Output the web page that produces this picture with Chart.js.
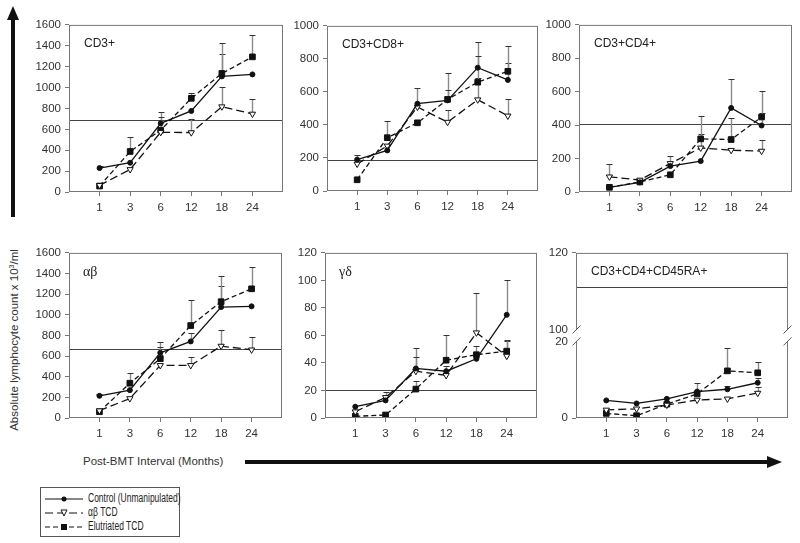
<!DOCTYPE html>
<html>
<head>
<meta charset="utf-8">
<script src="https://cdn.jsdelivr.net/npm/chart.js@4.4.1/dist/chart.umd.min.js"></script>
<style>
  body { margin: 0; background: #fff; width: 800px; height: 543px; position: relative; overflow: hidden;
         font-family: "Liberation Sans", Arial, sans-serif; color: #333; }
  canvas.panel { position: absolute; }
  #overlay { position: absolute; left: 0; top: 0; }
  #ytitle { position: absolute; left: 14px; top: 340px; transform: translate(-50%, -50%) rotate(-90deg);
            white-space: nowrap; font-size: 11.5px; color: #333; }
  #xtitle { position: absolute; left: 83px; top: 455px; font-size: 11.5px; color: #333; white-space: nowrap; }
  #legend { position: absolute; left: 40px; top: 487px; width: 138px; height: 48px; border: 1px solid #555; }
  #legend .row { position: absolute; left: 4px; height: 12px; }
  #legend svg { position: absolute; left: 0; top: 0; }
  #legend span { position: absolute; left: 43px; top: -2px; font-size: 12.5px; white-space: nowrap;
                 transform: scaleX(0.68); transform-origin: left center; color: #222; }
</style>
</head>
<body>
<svg id="overlay" width="800" height="543">
  <line x1="13" y1="217" x2="13" y2="18" stroke="#111" stroke-width="4"/>
  <polygon points="13,6 7,20 19,20" fill="#111"/>
  <line x1="245" y1="462" x2="768" y2="462" stroke="#111" stroke-width="4"/>
  <polygon points="782,462 767,456 767,468" fill="#111"/>
</svg>
<div id="ytitle">Absolute lymphocyte count x 10<sup style="font-size:7px">3</sup>/ml</div>
<div id="xtitle">Post-BMT Interval (Months)</div>
<div id="legend">
  <div class="row" style="top:5px">
    <svg width="40" height="12"><line x1="0" y1="6" x2="38" y2="6" stroke="#111" stroke-width="1.2"/><circle cx="19" cy="6" r="2.5" fill="#111"/></svg>
    <span>Control (Unmanipulated)</span>
  </div>
  <div class="row" style="top:19px">
    <svg width="40" height="12"><line x1="0" y1="6" x2="38" y2="6" stroke="#111" stroke-width="1.2" stroke-dasharray="8,4"/><polygon points="16,3 22,3 19,9" fill="#fff" stroke="#111" stroke-width="1"/></svg>
    <span>αβ TCD</span>
  </div>
  <div class="row" style="top:33px">
    <svg width="40" height="12"><line x1="0" y1="6" x2="38" y2="6" stroke="#111" stroke-width="1.2" stroke-dasharray="5,3"/><rect x="16" y="3" width="6" height="6" fill="#111"/></svg>
    <span>Elutriated TCD</span>
  </div>
</div>
<script>
// ===== DATA =====
const months = ['1', '3', '6', '12', '18', '24'];
const seriesLabels = ['Control (Unmanipulated)', 'αβ TCD', 'Elutriated TCD'];

// CD3+
const cd3Control = [229, 280, 658, 776, 1107, 1126];
const cd3AbTcd   = [64, 216, 572, 569, 817, 747];
const cd3Elut    = [57, 388, 592, 897, 1135, 1294];
const cd3ControlErr = [248, null, 770, null, 1320, null];
const cd3AbTcdErr   = [null, null, null, 700, 1002, 890];
const cd3ElutErr    = [null, 525, 716, 948, 1422, 1504];
const cd3Ref = 693;

// CD3+CD8+
const cd8Control = [190, 246, 529, 549, 747, 673];
const cd8AbTcd   = [164, 273, 509, 417, 553, 455];
const cd8Elut    = [68, 323, 413, 555, 659, 725];
const cd8ControlErr = [216, null, 623, 717, 904, 775];
const cd8AbTcdErr   = [null, null, null, 493, 685, 557];
const cd8ElutErr    = [null, 423, null, 609, 818, 880];
const cd8Ref = 188;

// CD3+CD4+
const cd4Control = [28, 58, 155, 185, 503, 398];
const cd4AbTcd   = [91, 72, 171, 264, 250, 245];
const cd4Elut    = [28, 60, 103, 318, 314, 449];
const cd4ControlErr = [null, null, null, null, 676, 475];
const cd4AbTcdErr   = [165, null, 215, 346, null, 314];
const cd4ElutErr    = [null, null, null, 453, 441, 602];
const cd4Ref = 408;

// alpha-beta
const abControl = [215, 270, 632, 742, 1075, 1082];
const abAbTcd   = [71, 189, 510, 510, 697, 661];
const abElut    = [61, 337, 575, 896, 1127, 1252];
const abControlErr = [234, null, 738, 819, 1284, null];
const abAbTcdErr   = [90, null, null, 588, 851, 786];
const abElutErr    = [null, 433, 690, 1140, 1377, 1464];
const abRef = 668;

// gamma-delta
const gdControl = [8.2, 12.8, 36, 34, 43, 75];
const gdAbTcd   = [4.6, 15, 34, 31, 62, 45];
const gdElut    = [1.2, 2.2, 21, 42, 46, 48.6];
const gdControlErr = [null, null, 51, null, null, 100];
const gdAbTcdErr   = [null, 19, 44, 38, 91, 56];
const gdElutErr    = [null, null, 27, 60, 52, 57];
const gdRef = 20;

// CD3+CD4+CD45RA+
const raControl = [4.6, 3.8, 5.0, 6.9, 7.5, 9.2];
const raAbTcd   = [2.1, 2.4, 3.4, 4.7, 5.0, 6.5];
const raElut    = [1.2, 0.6, 3.6, 6.3, 12.3, 11.8];
const raControlErr = [null, null, null, null, 8.4, 10.4];
const raAbTcdErr   = [null, null, null, null, null, 8.0];
const raElutErr    = [null, null, null, 9.2, 18.2, 14.7];
const raRef = 111;
const raTicks = [0, 20, 100, 120];

// ===== BROKEN AXIS (20 -> 100) =====
const GAP = 3.1;
const brokenVal = v => (v <= 20 ? v : v - 100 + 20 + GAP);
const plainVal = v => v;

// ===== PANELS =====
const panels = [
  { title: 'CD3+', max: 1600, step: 200, vals: [cd3Control, cd3AbTcd, cd3Elut], errs: [cd3ControlErr, cd3AbTcdErr, cd3ElutErr], ref: cd3Ref,
    frame: { left: 69, top: 24, w: 214, h: 168 } },
  { title: 'CD3+CD8+', max: 1000, step: 200, vals: [cd8Control, cd8AbTcd, cd8Elut], errs: [cd8ControlErr, cd8AbTcdErr, cd8ElutErr], ref: cd8Ref,
    frame: { left: 327, top: 25, w: 211, h: 166 } },
  { title: 'CD3+CD4+', max: 1000, step: 200, vals: [cd4Control, cd4AbTcd, cd4Elut], errs: [cd4ControlErr, cd4AbTcdErr, cd4ElutErr], ref: cd4Ref,
    frame: { left: 579, top: 24, w: 213, h: 168 } },
  { title: 'αβ', serif: true, max: 1600, step: 200, vals: [abControl, abAbTcd, abElut], errs: [abControlErr, abAbTcdErr, abElutErr], ref: abRef,
    frame: { left: 69, top: 252, w: 213, h: 166 } },
  { title: 'γδ', serif: true, max: 120, step: 20, vals: [gdControl, gdAbTcd, gdElut], errs: [gdControlErr, gdAbTcdErr, gdElutErr], ref: gdRef,
    frame: { left: 325, top: 252, w: 212, h: 166 } },
  { title: 'CD3+CD4+CD45RA+', broken: true, max: brokenVal(120), vals: [raControl, raAbTcd, raElut], errs: [raControlErr, raAbTcdErr, raElutErr], ref: raRef,
    frame: { left: 576, top: 252, w: 212, h: 166 } }
];

const styles = [
  { borderDash: [], pointStyle: 'circle', pointRadius: 2.5, pointRotation: 0, pointBackgroundColor: '#111' },
  { borderDash: [8, 4], pointStyle: 'triangle', pointRadius: 3.6, pointRotation: 180, pointBackgroundColor: '#fff' },
  { borderDash: [5, 3], pointStyle: 'rect', pointRadius: 4, pointRotation: 0, pointBackgroundColor: '#111' }
];

// ===== DECOR PLUGIN (ref line, error bars, frame, title) =====
const decor = {
  id: 'decor',
  beforeDatasetsDraw(chart, args, o) {
    const { ctx, chartArea: a, scales: { x, y } } = chart;
    const map = o.broken ? brokenVal : plainVal;
    ctx.save();
    ctx.lineWidth = 1;
    const ry = Math.round(y.getPixelForValue(map(o.ref))) + 0.5;
    ctx.strokeStyle = '#444';
    ctx.beginPath(); ctx.moveTo(a.left, ry); ctx.lineTo(a.right, ry); ctx.stroke();

    o.errs.forEach((errs, d) => {
      errs.forEach((e, i) => {
        if (e == null) return;
        const px = Math.round(x.getPixelForValue(i + 1)) + 0.5;
        const y0 = y.getPixelForValue(map(o.vals[d][i]));
        const y1 = Math.round(y.getPixelForValue(map(e))) + 0.5;
        ctx.strokeStyle = '#8a8a8a';
        ctx.lineWidth = 1.4;
        ctx.beginPath(); ctx.moveTo(px, y0); ctx.lineTo(px, y1); ctx.stroke();
        ctx.strokeStyle = '#333';
        ctx.lineWidth = 1;
        ctx.beginPath(); ctx.moveTo(px - 3, y1); ctx.lineTo(px + 3, y1); ctx.stroke();
      });
    });
    ctx.restore();
  },
  afterDraw(chart, args, o) {
    const { ctx, chartArea: a, scales: { y } } = chart;
    ctx.save();
    ctx.strokeStyle = '#777';
    ctx.lineWidth = 1;
    ctx.strokeRect(a.left + 0.5, a.top + 0.5, a.right - a.left - 1, a.bottom - a.top - 1);

    if (o.broken) {
      const yHi = y.getPixelForValue(brokenVal(100));
      const yLo = y.getPixelForValue(brokenVal(20));
      [a.left + 0.5, a.right - 0.5].forEach(bx => {
        ctx.fillStyle = '#fff';
        ctx.fillRect(bx - 2, yHi, 4, yLo - yHi);
        ctx.strokeStyle = '#555';
        [yHi, yLo].forEach(by => {
          ctx.beginPath(); ctx.moveTo(bx - 4, by + 4); ctx.lineTo(bx + 4, by - 4); ctx.stroke();
        });
      });
    }

    ctx.fillStyle = '#222';
    ctx.font = o.serif ? '14px "Liberation Serif", serif' : '12px "Liberation Sans", Arial, sans-serif';
    ctx.textBaseline = 'middle';
    ctx.fillText(o.title, a.left + (o.serif ? 14 : 15), a.top + 19);
    ctx.restore();
  }
};

const tickFont = { family: '"Liberation Sans", Arial, sans-serif', size: 11.5 };

panels.forEach(p => {
  const f = p.frame;
  const cv = document.createElement('canvas');
  cv.className = 'panel';
  cv.width = f.w + 56;
  cv.height = f.h + 40;
  cv.style.left = (f.left - 50) + 'px';
  cv.style.top = (f.top - 10) + 'px';
  document.body.appendChild(cv);

  const map = p.broken ? brokenVal : plainVal;

  const yAxis = {
    min: 0, max: p.max,
    border: { display: false },
    grid: { drawOnChartArea: false, drawTicks: true, tickLength: 4, color: '#777' },
    ticks: { stepSize: p.step, font: tickFont, color: '#333', padding: 4, callback: v => String(v) },
    afterFit(s) { s.width = 50; }
  };
  if (p.broken) {
    yAxis.afterBuildTicks = s => { s.ticks = raTicks.map(v => ({ value: brokenVal(v) })); };
    yAxis.ticks.callback = (v, i) => String(raTicks[i]);
    yAxis.grid.color = c => (c.index === 1 || c.index === 2 ? 'rgba(0,0,0,0)' : '#777');
  }

  new Chart(cv, {
    type: 'line',
    data: {
      datasets: p.vals.map((vals, d) => Object.assign({
        label: seriesLabels[d],
        data: vals.map((v, i) => ({ x: i + 1, y: map(v) })),
        borderColor: '#111',
        borderWidth: 1.3,
        pointBorderColor: '#111',
        pointBorderWidth: 1,
        tension: 0
      }, styles[d]))
    },
    options: {
      responsive: false,
      animation: false,
      devicePixelRatio: 1,
      layout: { padding: { left: 0, top: 10, right: 6, bottom: 0 } },
      plugins: {
        legend: { display: false },
        tooltip: { enabled: false },
        decor: { title: p.title, serif: p.serif, broken: p.broken, ref: p.ref, vals: p.vals, errs: p.errs }
      },
      scales: {
        x: {
          type: 'linear', min: 0, max: 7,
          border: { display: false },
          grid: { drawOnChartArea: false, drawTicks: true, tickLength: 4, color: '#777' },
          afterBuildTicks(s) { s.ticks = months.map((m, i) => ({ value: i + 1 })); },
          ticks: { callback: v => months[v - 1], font: tickFont, color: '#333', padding: 5, autoSkip: false, maxRotation: 0 },
          afterFit(s) { s.height = 30; }
        },
        y: yAxis
      }
    },
    plugins: [decor]
  });
});
</script>
</body>
</html>
